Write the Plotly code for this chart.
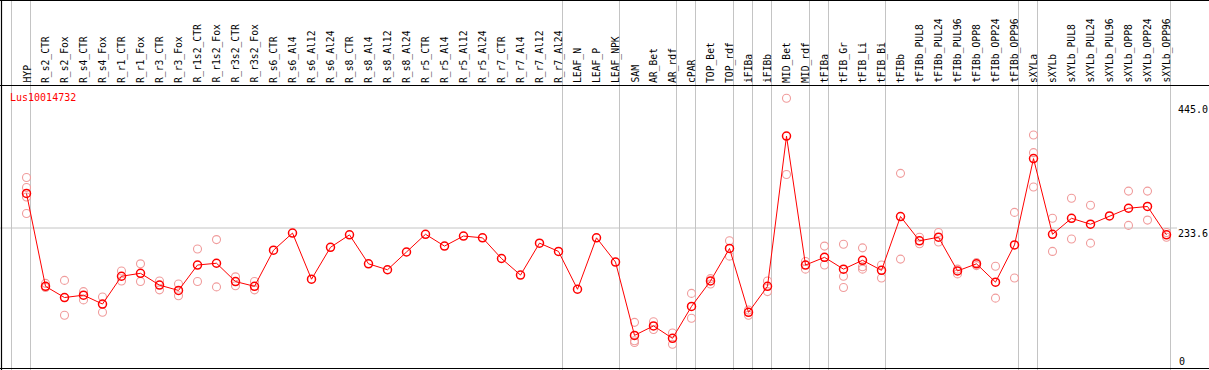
import plotly.graph_objects as go

categories = [
    "HYP", "R_s2_CTR", "R_s2_Fox", "R_s4_CTR", "R_s4_Fox", "R_r1_CTR", "R_r1_Fox",
    "R_r3_CTR", "R_r3_Fox", "R_r1s2_CTR", "R_r1s2_Fox", "R_r3s2_CTR", "R_r3s2_Fox",
    "R_s6_CTR", "R_s6_Al4", "R_s6_Al12", "R_s6_Al24", "R_s8_CTR", "R_s8_Al4",
    "R_s8_Al12", "R_s8_Al24", "R_r5_CTR", "R_r5_Al4", "R_r5_Al12", "R_r5_Al24",
    "R_r7_CTR", "R_r7_Al4", "R_r7_Al12", "R_r7_Al24", "LEAF_N", "LEAF_P", "LEAF_NPK",
    "SAM", "AR_Bet", "AR_rdf", "cPAR", "TOP_Bet", "TOP_rdf", "iFIBa", "iFIBb",
    "MID_Bet", "MID_rdf", "tFIBa", "tFIB_Gr", "tFIB_Li", "tFIB_Bi", "tFIBb",
    "tFIBb_PUL8", "tFIBb_PUL24", "tFIBb_PUL96", "tFIBb_OPP8", "tFIBb_OPP24",
    "tFIBb_OPP96", "sXYLa", "sXYLb", "sXYLb_PUL8", "sXYLb_PUL24", "sXYLb_PUL96",
    "sXYLb_OPP8", "sXYLb_OPP24", "sXYLb_OPP96",
]

means = [
    292, 135, 116, 120, 105, 152, 157, 137, 128, 171, 174, 143, 135,
    196, 225, 147, 201, 222, 173, 163, 193, 223, 203, 220, 217,
    182, 154, 208, 194, 130, 217, 176,
    52, 68, 47, 101, 144, 199, 91, 135, 389, 171,
    184, 164, 179, 162, 253, 212, 218, 161, 173, 142, 205,
    351, 223, 250, 240, 254, 267, 270, 222,
]

replicates = [
    [319, 302, 286, 258], [140, 133], [145, 86], [126, 112], [117, 91],
    [161, 144], [173, 143], [144, 129], [139, 119], [198, 143], [214, 134],
    [151, 136], [143, 129],
    [], [], [], [], [], [], [], [], [], [], [], [], [], [], [], [], [], [], [],
    [74, 43, 40], [75, 62], [56, 37], [123, 81], [148, 139], [212, 186],
    [95, 86], [144, 126], [453, 324], [177, 164],
    [203, 171], [206, 152, 133], [200, 168, 164], [171, 149], [326, 181],
    [218, 207], [226, 210], [164, 156], [175, 170], [169, 115], [260, 149],
    [391, 361, 303], [250, 194], [284, 215], [272, 208], [], [296, 238],
    [296, 247], [226, 218],
]

group_sizes = [1, 28, 3, 3, 1, 2, 1, 1, 2, 1, 3, 7, 1, 7]

gene_id = "Lus10014732"
tick_values = [445.0, 233.6, 0]
tick_labels = ["445.0", "233.6", "0"]

W, H = 1209, 370
px_per_cat = 19.0
x0 = 1 - 26.5 / px_per_cat
x1 = x0 + W / px_per_cat
px_per_unit = 125.0 / (445.0 - 233.6)
y_max = 233.6 + 228.0 / px_per_unit
y_min = y_max - H / px_per_unit

xs = list(range(1, len(categories) + 1))
rx, ry = [], []
for i, reps in enumerate(replicates):
    for r in reps:
        rx.append(xs[i])
        ry.append(r)

fig = go.Figure()
fig.add_trace(go.Scatter(
    x=rx, y=ry, mode="markers", cliponaxis=False,
    marker=dict(symbol="circle-open", size=8, color="#f09c9c", line=dict(width=1.1, color="#f09c9c")),
    hoverinfo="skip", showlegend=False,
))
fig.add_trace(go.Scatter(
    x=xs, y=means, mode="lines+markers", cliponaxis=False,
    line=dict(color="#ff0000", width=1),
    marker=dict(symbol="circle-open", size=8, color="#ff0000", line=dict(width=1.5, color="#ff0000")),
    showlegend=False,
))

shapes = []
grey = "#c4c4c4"
off = 4.0 / px_per_cat
b = 0
bounds = [0]
for g in group_sizes:
    b += g
    bounds.append(b)
for bnd in bounds:
    shapes.append(dict(type="line", xref="x", yref="paper", x0=bnd + off, x1=bnd + off,
                       y0=0, y1=1, line=dict(color=grey, width=1), layer="below"))
shapes.append(dict(type="line", xref="paper", yref="y", x0=0, x1=1177.0 / W,
                   y0=tick_values[1], y1=tick_values[1], line=dict(color=grey, width=1), layer="below"))
black = "#000000"
for yp in (0.5, 85.5, 368.5):
    shapes.append(dict(type="line", xref="paper", yref="paper", x0=0, x1=1, y0=1 - yp / H, y1=1 - yp / H,
                       line=dict(color=black, width=1.2)))
shapes.append(dict(type="line", xref="paper", yref="paper", x0=1.5 / W, x1=1.5 / W, y0=0, y1=1,
                   line=dict(color=black, width=1.2)))

font = "DejaVu Sans Mono, monospace"
annotations = []
for i, c in enumerate(categories):
    annotations.append(dict(x=xs[i], y=1 - 84.0 / H, xref="x", yref="paper", text=c,
                            textangle=-90, showarrow=False, xanchor="center", yanchor="bottom",
                            font=dict(family=font, size=9.7, color="#000000"), borderpad=0))
annotations.append(dict(x=9.0 / W, y=1 - 98.0 / H, xref="paper", yref="paper", text=gene_id,
                        showarrow=False, xanchor="left", yanchor="middle",
                        font=dict(family=font, size=10, color="#ff0000"), borderpad=0))
annotations.append(dict(x=1177.0 / W, y=tick_values[0], xref="paper", yref="y", text=tick_labels[0],
                        showarrow=False, xanchor="left", yanchor="top",
                        font=dict(family=font, size=10, color="#000000"), borderpad=0))
annotations.append(dict(x=1177.0 / W, y=tick_values[1], xref="paper", yref="y", text=tick_labels[1],
                        showarrow=False, xanchor="left", yanchor="top", yshift=1,
                        font=dict(family=font, size=10, color="#000000"), borderpad=0))
annotations.append(dict(x=1178.0 / W, y=tick_values[2], xref="paper", yref="y", text=tick_labels[2],
                        showarrow=False, xanchor="left", yanchor="bottom", yshift=-2,
                        font=dict(family=font, size=10, color="#000000"), borderpad=0))

fig.update_layout(
    width=W, height=H,
    margin=dict(l=0, r=0, t=0, b=0),
    paper_bgcolor="#ffffff", plot_bgcolor="#ffffff",
    xaxis=dict(range=[x0, x1], visible=False, fixedrange=True),
    yaxis=dict(range=[y_min, y_max], visible=False, fixedrange=True),
    shapes=shapes, annotations=annotations,
    showlegend=False,
)

fig.write_html(
    "out.html",
    config={"displayModeBar": False},
    post_script="document.body.style.margin='0';document.body.style.overflow='hidden';",
)
